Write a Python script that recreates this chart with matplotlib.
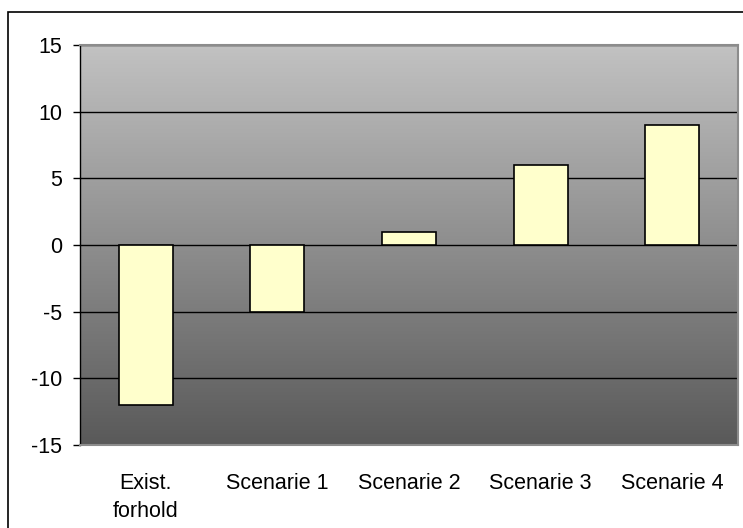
import numpy as np
import matplotlib
matplotlib.use("Agg")
import matplotlib.pyplot as plt
from matplotlib.patches import Rectangle

categories = ["Exist.\nforhold", "Scenarie 1", "Scenarie 2", "Scenarie 3", "Scenarie 4"]
values = [-12, -5, 1, 6, 9]
yticks = [-15, -10, -5, 0, 5, 10, 15]

plt.rcParams["font.family"] = ["Liberation Sans", "DejaVu Sans"]

fig = plt.figure(figsize=(7.43, 5.28), dpi=100)

# outer frame of the chart object
fig.patches.append(Rectangle((8 / 743, -0.1), 1.2, 0.977 + 0.1, transform=fig.transFigure,
                             fill=False, edgecolor="black", linewidth=1.2))

ax = fig.add_axes([80 / 743, 1 - 445 / 528, 658 / 743, 400 / 528])
n = len(categories)

# vertical grey gradient background: light at the top, dark at the bottom
top = np.array([0.76, 0.76, 0.76])
bottom = np.array([0.35, 0.35, 0.35])
t = np.linspace(0, 1, 256)[:, None]
grad = (top[None, :] * (1 - t) + bottom[None, :] * t)[:, None, :]
ax.imshow(grad, aspect="auto", origin="upper", extent=(-0.5, n - 0.5, -15, 15), zorder=0)
ax.set_xlim(-0.5, n - 0.5)
ax.set_ylim(-15, 15)

for y in yticks:
    ax.axhline(y, color="black", linewidth=1.0, zorder=1)

x = np.arange(n)
ax.bar(x, values, width=0.41, color="#ffffcc", edgecolor="black", linewidth=1.2, zorder=2)

ax.set_yticks(yticks)
ax.set_yticklabels([str(v) for v in yticks], fontsize=15.5)
ax.set_xticks(x)
ax.set_xticklabels(categories, fontsize=15.5, linespacing=1.45)
ax.tick_params(axis="x", length=0, pad=20)
ax.tick_params(axis="y", length=5, width=1, direction="out", pad=8)

for side in ["top", "right", "bottom"]:
    ax.spines[side].set_color("#8c8c8c")
    ax.spines[side].set_linewidth(1.5)
ax.spines["left"].set_color("black")
ax.spines["left"].set_linewidth(1)

fig.savefig("out.png", dpi=100)
